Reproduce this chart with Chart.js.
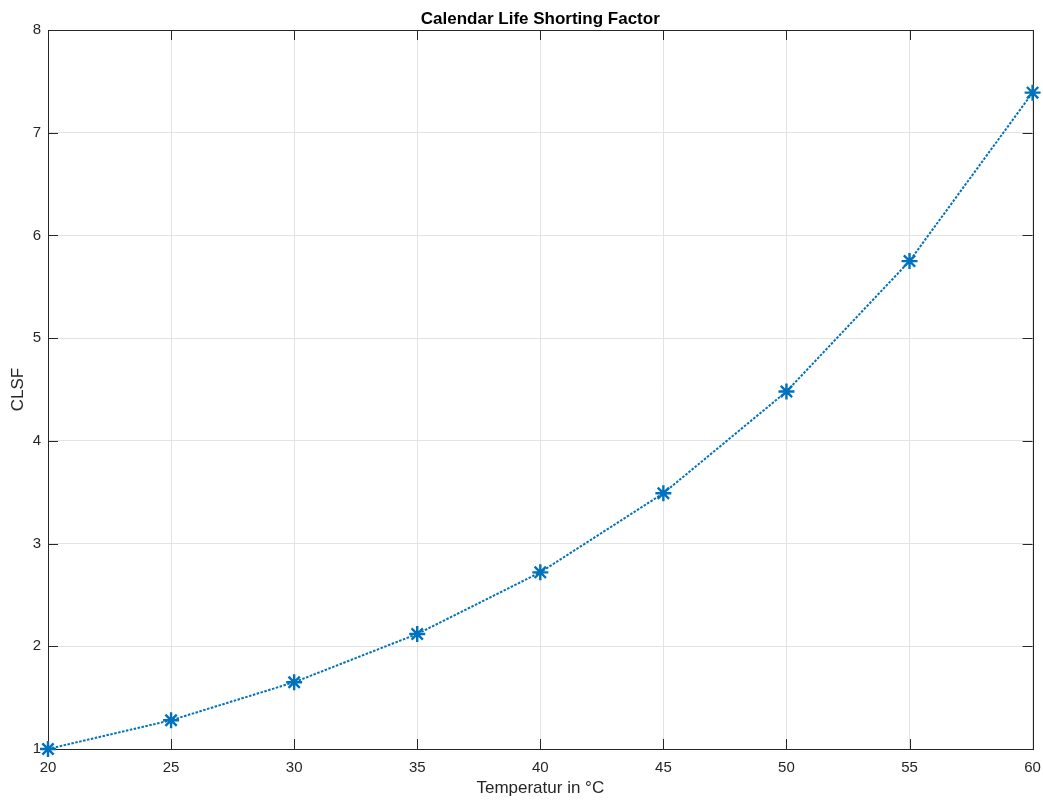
<!DOCTYPE html>
<html>
<head>
<meta charset="utf-8">
<script src="https://cdn.jsdelivr.net/npm/chart.js@4/dist/chart.umd.min.js"></script>
<style>
  html, body { margin: 0; padding: 0; background: #ffffff; }
  #wrap { width: 1043px; height: 800px; }
</style>
</head>
<body>
<div id="wrap"><canvas id="c" width="1043" height="800"></canvas></div>
<script>
// Temperature steps (°C) and the calendar life shorting factor at each one
const temperatures = [20, 25, 30, 35, 40, 45, 50, 55, 60];
const clsfValues = [1.00, 1.28, 1.65, 2.12, 2.72, 3.49, 4.48, 5.75, 7.39];

// Axis tick positions
const xTicks = [20, 25, 30, 35, 40, 45, 50, 55, 60];
const yTicks = [1, 2, 3, 4, 5, 6, 7, 8];

const chartTitle = 'Calendar Life Shorting Factor';
const xLabel = 'Temperatur in °C';
const yLabel = 'CLSF';

const FONT = '"Liberation Sans", Arial, Helvetica, sans-serif';
const AXIS_COLOR = '#262626';
const LINE_COLOR = '#0072BD';
const TICK_LEN = 10;

// Box around the plot area with inward tick marks on all four sides
const boxTicks = {
  id: 'boxTicks',
  beforeDatasetsDraw(chart) {
    const { ctx, chartArea: a, scales: { x, y } } = chart;
    ctx.save();
    ctx.strokeStyle = AXIS_COLOR;
    ctx.lineWidth = 1;
    ctx.beginPath();
    xTicks.forEach(t => {
      const px = Math.round(x.getPixelForValue(t)) + 0.5;
      ctx.moveTo(px, a.bottom); ctx.lineTo(px, a.bottom - TICK_LEN);
      ctx.moveTo(px, a.top); ctx.lineTo(px, a.top + TICK_LEN);
    });
    yTicks.forEach(t => {
      const py = Math.round(y.getPixelForValue(t)) + 0.5;
      ctx.moveTo(a.left, py); ctx.lineTo(a.left + TICK_LEN, py);
      ctx.moveTo(a.right, py); ctx.lineTo(a.right - TICK_LEN, py);
    });
    ctx.stroke();
    ctx.strokeRect(Math.round(a.left) + 0.5, Math.round(a.top) + 0.5,
                   Math.round(a.right - a.left), Math.round(a.bottom - a.top));
    ctx.restore();
  }
};

new Chart(document.getElementById('c'), {
  type: 'line',
  data: {
    datasets: [{
      label: yLabel,
      data: temperatures.map((t, i) => ({ x: t, y: clsfValues[i] })),
      borderColor: LINE_COLOR,
      backgroundColor: LINE_COLOR,
      borderWidth: 2,
      borderDash: [2.5, 1.5],
      tension: 0,
      fill: false,
      pointStyle: 'star',
      pointRadius: 8,
      pointBorderWidth: 2.4,
      pointBorderColor: LINE_COLOR,
      pointBackgroundColor: LINE_COLOR,
      clip: false
    }]
  },
  options: {
    responsive: false,
    animation: false,
    layout: { padding: { left: 0, right: 10, top: 0, bottom: 0 } },
    plugins: {
      legend: { display: false },
      tooltip: { enabled: false },
      title: {
        display: true,
        fullSize: false,
        text: chartTitle,
        color: '#000000',
        font: { family: FONT, size: 17, weight: 'bold' },
        padding: { top: 9, bottom: 0.6 }
      }
    },
    scales: {
      x: {
        type: 'linear',
        min: 20, max: 60,
        afterBuildTicks(s) { s.ticks = xTicks.map(v => ({ value: v })); },
        afterFit(s) { s.height = 51; s.paddingLeft = 0; s.paddingRight = 0; },
        grid: { color: '#e3e3e3', drawTicks: false },
        border: { display: false },
        ticks: {
          color: AXIS_COLOR, padding: 10, maxRotation: 0, autoSkip: false,
          font: { family: FONT, size: 15 }
        },
        title: {
          display: true, text: xLabel, color: AXIS_COLOR,
          font: { family: FONT, size: 17 },
          padding: { top: 0, bottom: 1 }
        }
      },
      y: {
        type: 'linear',
        min: 1, max: 8,
        afterBuildTicks(s) { s.ticks = yTicks.map(v => ({ value: v })); },
        afterFit(s) { s.width = 48; s.paddingTop = 0; s.paddingBottom = 0; },
        grid: { color: '#e3e3e3', drawTicks: false },
        border: { display: false },
        ticks: {
          color: AXIS_COLOR, padding: 7, autoSkip: false,
          font: { family: FONT, size: 15 }
        },
        title: {
          display: true, text: yLabel, color: AXIS_COLOR,
          font: { family: FONT, size: 17 },
          padding: { top: 8, bottom: 0 }
        }
      }
    }
  },
  plugins: [boxTicks]
});
</script>
</body>
</html>
